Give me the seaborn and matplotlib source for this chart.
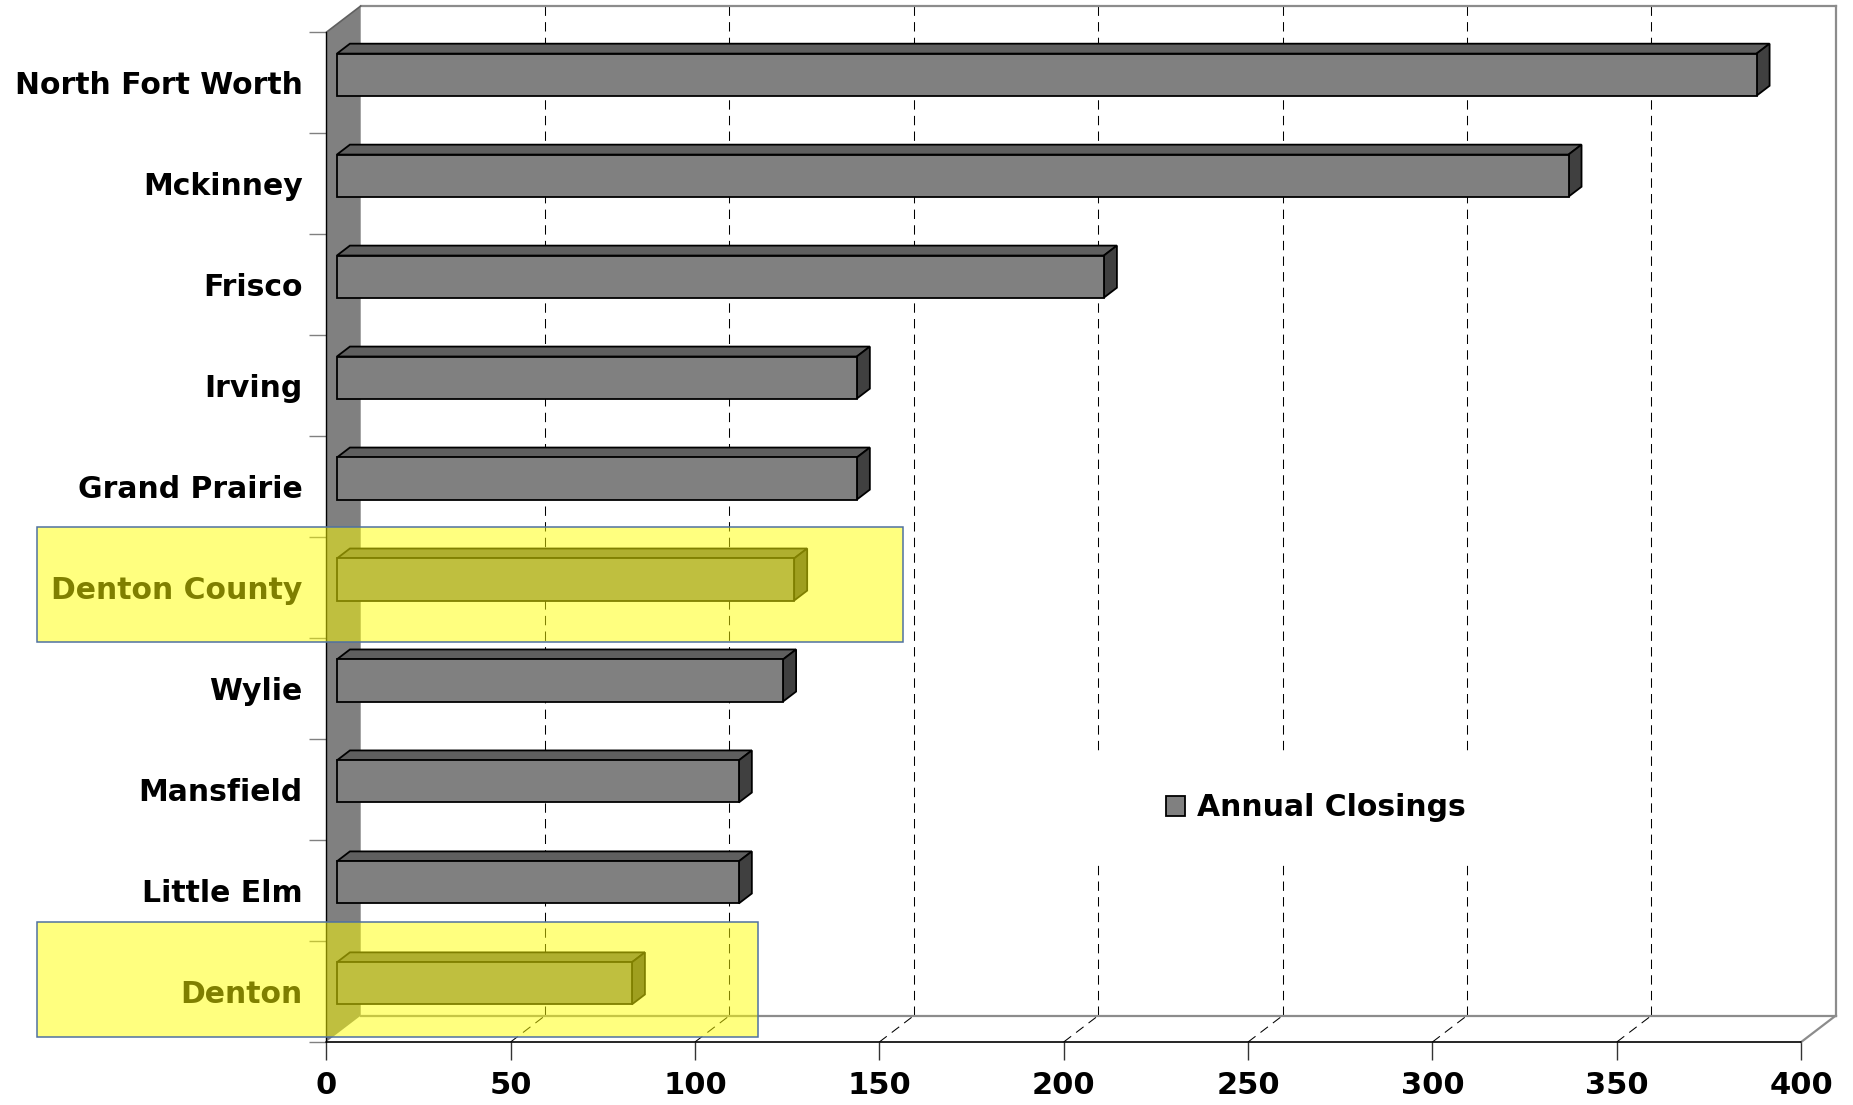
import numpy as np
import pandas as pd
import matplotlib
matplotlib.use('Agg')
import matplotlib.pyplot as plt
import matplotlib.transforms as mtransforms
from matplotlib.patches import Polygon, Rectangle
import seaborn as sns

# ---------------- data ----------------
categories = ["North Fort Worth", "Mckinney", "Frisco", "Irving", "Grand Prairie",
              "Denton County", "Wylie", "Mansfield", "Little Elm", "Denton"]
closings = [385, 334, 208, 141, 141, 124, 121, 109, 109, 80]
x_ticks = [0, 50, 100, 150, 200, 250, 300, 350, 400]
series_name = "Annual Closings"

# ---------------- style ----------------
sns.set_style('white')
plt.rcParams['font.family'] = ['DejaVu Sans']
plt.rcParams['font.weight'] = 'bold'
plt.rcParams['text.color'] = 'black'
plt.rcParams['xtick.labelcolor'] = 'black'
plt.rcParams['ytick.labelcolor'] = 'black'

W, H, DPI = 1853, 1105, 100
fig = plt.figure(figsize=(W / DPI, H / DPI), dpi=DPI)
fig.patch.set_facecolor('white')

n = len(categories)
XMAX = x_ticks[-1]
DX, DY = 9.36, -0.261          # depth of the 3D box in data units
F_FRONT, F_DEPTH = 0.31, 0.377  # bar position / thickness within depth

ax_l, ax_r, ax_t, ax_b = 326.2, 1835.7, 6.0, 1042.0
ax = fig.add_axes([ax_l / W, 1 - ax_b / H, (ax_r - ax_l) / W, (ax_b - ax_t) / H])
ax.set_facecolor('none')

df = pd.DataFrame({'Area': categories, series_name: closings})
sns.barplot(data=df, x=series_name, y='Area', orient='h', color='#808080',
            width=0.417, edgecolor='black', linewidth=1.3, saturation=1,
            ax=ax, label=series_name, zorder=6, legend=False)

bars = list(ax.patches)
shift = mtransforms.Affine2D().translate(F_FRONT * DX, F_FRONT * DY) + ax.transData
bdx, bdy = F_DEPTH * DX, F_DEPTH * DY
for p in bars:
    p.set_transform(shift)
    x0, y0, w, h = p.get_x(), p.get_y(), p.get_width(), p.get_height()
    x1, y1 = x0 + w, y0 + h
    top = Polygon([(x0, y0), (x1, y0), (x1 + bdx, y0 + bdy), (x0 + bdx, y0 + bdy)],
                  closed=True, fc='#5f5f5f', ec='black', lw=1.3, transform=shift, zorder=5)
    side = Polygon([(x1, y0), (x1 + bdx, y0 + bdy), (x1 + bdx, y1 + bdy), (x1, y1)],
                   closed=True, fc='#404040', ec='black', lw=1.3, transform=shift, zorder=5)
    ax.add_artist(top)
    ax.add_artist(side)

# side wall
ytop, ybot = -0.5, n - 0.5
wall = Polygon([(0, ytop), (DX, ytop + DY), (DX, ybot + DY), (0, ybot)], closed=True,
               fc='#808080', ec='none', transform=ax.transData, zorder=2)
ax.add_artist(wall)

# gridlines on back wall and floor
grid_kw = dict(color='black', lw=0.75, ls=(0, (9, 6)), zorder=1, clip_on=False)
for v in x_ticks[1:-1]:
    ax.plot([v + DX, v + DX], [ytop + DY, ybot + DY], **grid_kw)
    ax.plot([v, v + DX], [ybot, ybot + DY], **grid_kw)

# frame lines
gray_kw = dict(color='#8c8c8c', lw=1.6, zorder=3, clip_on=False, solid_capstyle='projecting')
ax.plot([DX, XMAX + DX], [ytop + DY, ytop + DY], **gray_kw)
ax.plot([XMAX + DX, XMAX + DX], [ytop + DY, ybot + DY], **gray_kw)
ax.plot([DX, XMAX + DX], [ybot + DY, ybot + DY], **gray_kw)
ax.plot([XMAX, XMAX + DX], [ybot, ybot + DY], **gray_kw)
ax.plot([0, DX], [ytop, ytop + DY], color='#606060', lw=1.2, zorder=3, clip_on=False)
ax.plot([0, 0], [ytop, ybot], color='black', lw=1.0, zorder=4, clip_on=False)
ax.plot([0, XMAX], [ybot, ybot], color='black', lw=1.2, zorder=4, clip_on=False)

# white background behind legend (interrupts gridlines)
ax.add_artist(Rectangle((1090 / W, 1 - 863 / H), (1480 - 1090) / W, (863 - 751) / H,
                        transform=fig.transFigure, fc='white', ec='none', zorder=3))

ax.set_xlim(0, XMAX + DX)
ax.set_ylim(ybot, ytop + DY)
for s in ax.spines.values():
    s.set_visible(False)

ax.set_xticks(x_ticks)
ax.set_xticklabels([str(t) for t in x_ticks])
ax.tick_params(axis='x', which='major', bottom=True, length=13, width=1.0,
               color='#333333', pad=8, labelsize=22, labelcolor='black')
ax.set_yticks(range(n))
ax.set_yticklabels(categories)
ax.tick_params(axis='y', which='major', left=True, length=0, pad=17, labelsize=21.5,
               labelcolor='black')
ax.set_yticks(np.arange(-0.5, n, 1.0), minor=True)
ax.tick_params(axis='y', which='minor', left=True, length=12.2, width=1.0, color='#808080')
for lab in ax.get_xticklabels() + ax.get_yticklabels():
    lab.set_fontweight('bold')
ax.set_xlabel('')
ax.set_ylabel('')

# legend
leg = ax.legend([ax.containers[0]], [series_name], loc='center left',
                bbox_to_anchor=(1166 / W, 1 - 808 / H), bbox_transform=fig.transFigure,
                frameon=False, borderpad=0, borderaxespad=0, handlelength=0.65,
                handleheight=0.65, handletextpad=0.4,
                prop={'weight': 'bold', 'size': 21.5})
leg.set_zorder(8)
for t in leg.get_texts():
    t.set_color('black')

# highlight boxes
hl_kw = dict(transform=fig.transFigure, fc=(1, 1, 0, 0.5), ec='#4f71a0', lw=1.1, zorder=10)
fig.add_artist(Rectangle((36.6 / W, 1 - 641.7 / H), (903 - 36.6) / W, (641.7 - 527) / H, **hl_kw))
fig.add_artist(Rectangle((36.6 / W, 1 - 1036.5 / H), (757.5 - 36.6) / W, (1036.5 - 921.8) / H, **hl_kw))

fig.savefig('out.png', dpi=DPI, facecolor='white')
